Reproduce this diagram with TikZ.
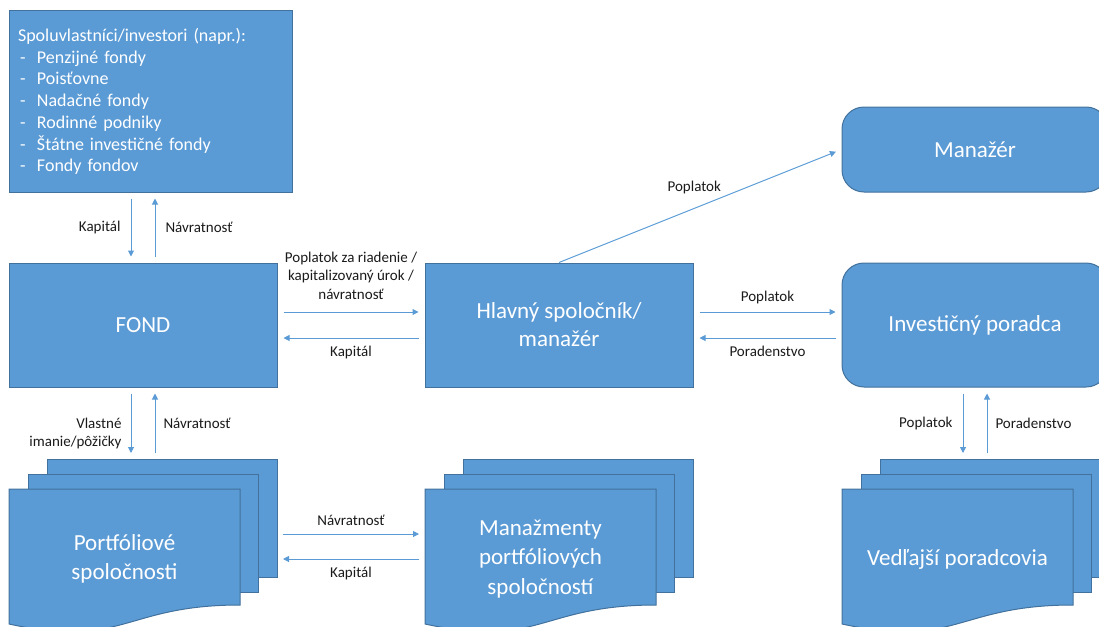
\documentclass[tikz,border=0pt]{standalone}
\usepackage{fontspec}
\setmainfont{Carlito}
\usepackage{tikz}
\usetikzlibrary{arrows.meta, calc}
\definecolor{BoxBlue}{HTML}{5B9BD5}
\definecolor{BoxEdge}{HTML}{41719C}
\definecolor{LabelBlack}{HTML}{1A1A1A}
\tikzset{
    % Box styles
    bluebox/.style={
        rectangle,
        draw=BoxEdge,
        fill=BoxBlue,
        line width=1pt,
        text=white,
        align=center,
        font=\fontsize{23}{28}\selectfont
    },
    roundbox/.style={
        bluebox,
        rounded corners=22pt
    },
    sheet/.style={
        draw=BoxEdge,
        fill=BoxBlue,
        line width=1pt
    },
    stacktext/.style={
        text=white,
        align=center,
        font=\fontsize{23}{29.5}\selectfont
    },
    % Arrow styles
    flow/.style={
        -{Triangle[length=6pt,width=6pt]},
        draw=BoxBlue,
        line width=1pt,
        shorten <=6pt,
        shorten >=6pt
    },
    flowlabel/.style={
        text=LabelBlack,
        align=center,
        inner sep=2pt,
        font=\fontsize{15}{18.5}\selectfont
    }
}
% stack of three sheets: name, x, y (front sheet top left), text
\newcommand{\docstack}[4]{%
    \foreach \dx/\dy in {38/-30, 19/-15}
        \draw[sheet] ({#2+\dx},{#3+\dy}) rectangle ({#2+\dx+230},{#3+\dy+118});
    \draw[sheet] (#2,#3) -- ({#2+231},#3) -- ({#2+231},{#3+116})
        .. controls ({#2+115},{#3+116}) and ({#2+115},{#3+160}) .. (#2,{#3+135}) -- cycle;
    \node[stacktext] (#1) at ({#2+115.5},{#3+70}) {#4};
    \coordinate (#1-top) at ({#2+115.5},{#3-30});
    \coordinate (#1-left) at (#2,{#3+57.5});
    \coordinate (#1-right) at ({#2+268},{#3+57.5});
}

\begin{document}
\begin{tikzpicture}[x=1pt, y=-1pt]
    \useasboundingbox (0,0) rectangle (1099,626);
    \clip (0,0) rectangle (1099,626);

    % Investors
    \node[bluebox, minimum width=283pt, minimum height=181pt, text width=265pt,
          inner xsep=9pt, align=left, font=\fontsize{18}{21.7}\selectfont] (inv) at (150.5,101.5)
        {Spoluvlastníci/investori (napr.):\\
         \hspace*{2pt}\makebox[17pt][l]{-}Penzijné fondy\\
         \hspace*{2pt}\makebox[17pt][l]{-}Poisťovne\\
         \hspace*{2pt}\makebox[17pt][l]{-}Nadačné fondy\\
         \hspace*{2pt}\makebox[17pt][l]{-}Rodinné podniky\\
         \hspace*{2pt}\makebox[17pt][l]{-}Štátne investičné fondy\\
         \hspace*{2pt}\makebox[17pt][l]{-}Fondy fondov};

    % Main boxes
    \node[bluebox, minimum width=268pt, minimum height=124pt] (fond) at (143,325) {FOND};
    \node[bluebox, minimum width=268pt, minimum height=124pt] (gp) at (559,325) {Hlavný spoločník/\\manažér};
    \node[roundbox, minimum width=266pt, minimum height=85pt] (mgr) at (975,149.5) {Manažér};
    \node[roundbox, minimum width=266pt, minimum height=124pt] (adv) at (975,325) {Investičný poradca};

    % Stacks
    \docstack{pf}{9}{489}{Portfóliové\\spoločnosti}
    \docstack{pm}{425}{489}{Manažmenty\\portfóliových\\spoločností}
    \docstack{sa}{842}{489}{Vedľajší poradcovia}

    % Investors - fund
    \draw[flow] ([xshift=-12pt]fond.north |- inv.south) -- ([xshift=-12pt]fond.north)
        node[midway, flowlabel, left=8pt] {Kapitál};
    \draw[flow] ([xshift=12pt]fond.north) -- ([xshift=12pt]fond.north |- inv.south)
        node[midway, flowlabel, right=8pt] {Návratnosť};

    % Fund - portfolio companies
    \draw[flow] ([xshift=-12pt]fond.south) -- ([xshift=-12pt]fond.south |- pf-top)
        node[midway, flowlabel, left=7pt, yshift=-10pt, align=right] {Vlastné\\imanie/pôžičky};
    \draw[flow] ([xshift=12pt]fond.south |- pf-top) -- ([xshift=12pt]fond.south)
        node[midway, flowlabel, right=6pt] {Návratnosť};

    % Fund - general partner
    \draw[flow] ([yshift=13pt]fond.east) -- ([yshift=13pt]gp.west)
        node[midway, flowlabel, above=10pt] {Poplatok za riadenie /\\kapitalizovaný úrok /\\návratnosť};
    \draw[flow] ([yshift=-13pt]gp.west) -- ([yshift=-13pt]fond.east)
        node[midway, flowlabel, below=6pt] {Kapitál};

    % General partner - manager
    \draw[flow, shorten <=0pt] (gp.north) -- (mgr.west)
        node[midway, flowlabel, above=10pt, xshift=-6pt] {Poplatok};

    % General partner - adviser
    \draw[flow] ([yshift=13pt]gp.east) -- ([yshift=13pt]adv.west)
        node[midway, flowlabel, above=6pt] {Poplatok};
    \draw[flow] ([yshift=-13pt]adv.west) -- ([yshift=-13pt]gp.east)
        node[midway, flowlabel, below=6pt] {Poradenstvo};

    % Adviser - sub-advisers
    \draw[flow] ([xshift=-12pt]adv.south) -- ([xshift=-12pt]adv.south |- sa-top)
        node[midway, flowlabel, left=8pt] {Poplatok};
    \draw[flow] ([xshift=12pt]adv.south |- sa-top) -- ([xshift=12pt]adv.south)
        node[midway, flowlabel, right=6pt] {Poradenstvo};

    % Portfolio companies - management
    \draw[flow] ([yshift=12.5pt]pf-right) -- ([yshift=12.5pt]pm-left)
        node[midway, flowlabel, above=6pt] {Návratnosť};
    \draw[flow] ([yshift=-12.5pt]pm-left) -- ([yshift=-12.5pt]pf-right)
        node[midway, flowlabel, below=6pt] {Kapitál};
\end{tikzpicture}
\end{document}
